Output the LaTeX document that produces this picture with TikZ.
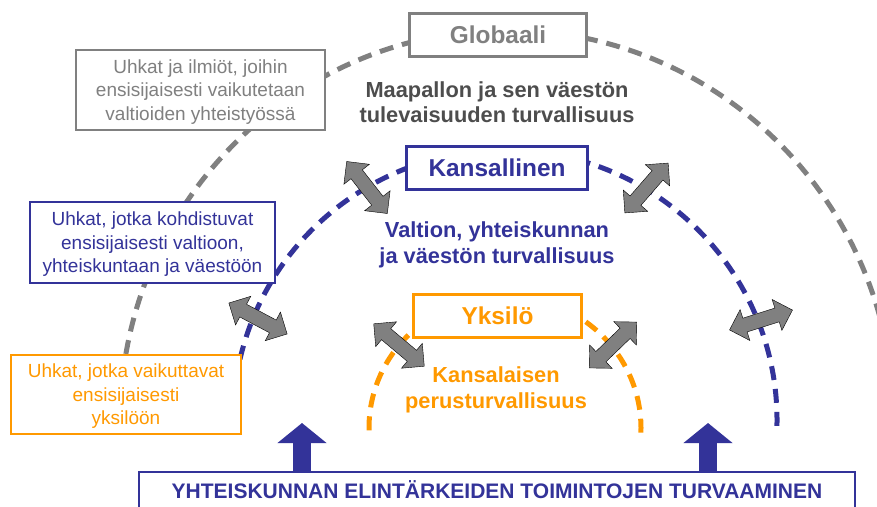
\documentclass[tikz,border=0pt]{standalone}
\usepackage{fontspec}
\setmainfont{Liberation Sans}
\usetikzlibrary{arrows.meta,shapes.arrows}

\definecolor{ggray}{HTML}{808080}
\definecolor{dgray}{HTML}{4D4D4D}
\definecolor{kblue}{HTML}{333399}
\definecolor{yorange}{HTML}{FF9900}

\begin{document}
\begin{tikzpicture}[x=1pt,y=-1pt,
    level/.style={draw=#1,fill=white,line width=3pt,text=#1,font=\fontsize{24.4}{28}\selectfont\bfseries,minimum height=43pt,inner sep=0pt},
    threat/.style={draw=#1,fill=white,line width=2pt,text=#1,align=center,font=\fontsize{19}{23.5}\selectfont,inner sep=0pt,text depth=0pt},
    goal/.style={text=#1,align=center,font=\fontsize{21.8}{25.5}\selectfont\bfseries},
    ring/.style={draw=#1,line width=5pt,dash pattern=on 14pt off 9pt},
    swap/.style={double arrow,draw=black,thin,fill=ggray,minimum height=66pt,inner xsep=0pt,inner ysep=7pt,double arrow head extend=9pt},
    lift/.style={draw=kblue,line width=18pt,-{Triangle[width=48pt,length=20pt]}}]

  \useasboundingbox (0,0) rectangle (877,506);
  \clip (0,0) rectangle (877,506);

  % dashed rings
  \coordinate (cg) at (507,422);
  \coordinate (ck) at (505,420);
  \coordinate (cy) at (505,428);
  \draw[ring=ggray] (cg) ++(170:387pt and 392pt) arc[start angle=170,end angle=8,x radius=387pt,y radius=392pt];
  \draw[ring=kblue] (ck) ++(167:272pt and 270pt) arc[start angle=167,end angle=-3,x radius=272pt,y radius=270pt];
  \draw[ring=yorange] (cy) ++(181:136pt and 132pt) arc[start angle=181,end angle=-2,x radius=136pt,y radius=132pt];

  % levels
  \node[level=ggray,minimum width=177pt] (glob) at (498,35) {Globaali};
  \node[level=kblue,minimum width=181pt] (kans) at (497,168) {Kansallinen};
  \node[level=yorange,minimum width=168pt] (yks) at (497.5,316) {Yksilö};

  \node[goal=dgray] (glab) at (497,102) {Maapallon ja sen väestön\\tulevaisuuden turvallisuus};
  \node[goal=kblue] (klab) at (497,245) {Valtion, yhteiskunnan\\ja väestön turvallisuus};
  \node[goal=yorange] (ylab) at (496,390) {Kansalaisen\\perusturvallisuus};

  % threats
  \node[threat=ggray,minimum width=249pt,minimum height=80pt] (tglob) at (200.5,90) {Uhkat ja ilmiöt, joihin\\ensisijaisesti vaikutetaan\\valtioiden yhteistyössä};
  \node[threat=kblue,minimum width=245pt,minimum height=81pt] (tkans) at (152.5,242.5) {Uhkat, jotka kohdistuvat\\ensisijaisesti valtioon,\\yhteiskuntaan ja väestöön};
  \node[threat=yorange,minimum width=230pt,minimum height=79pt] (tyks) at (126,394.5) {Uhkat, jotka vaikuttavat\\ensisijaisesti\\yksilöön};

  % interaction
  \node[swap,rotate=-52] (s1) at (367,187.5) {};
  \node[swap,rotate=49] (s2) at (646.5,188) {};
  \node[swap,rotate=-28] (s3) at (258,318.5) {};
  \node[swap,rotate=-40] (s4) at (399,345) {};
  \node[swap,rotate=44] (s5) at (613,345) {};
  \node[swap,rotate=17.5] (s6) at (761,320) {};

  % base
  \node[draw=kblue,line width=2pt,fill=white,text=kblue,font=\fontsize{21}{25}\selectfont\bfseries,
        minimum width=716pt,inner sep=0pt,text height=26pt,text depth=14pt,anchor=north] (base) at (497,471)
        {YHTEISKUNNAN ELINTÄRKEIDEN TOIMINTOJEN TURVAAMINEN};
  \coordinate (t1) at (302,423);
  \coordinate (t2) at (708,423);
  \draw[lift] (t1 |- base.north) -- (t1);
  \draw[lift] (t2 |- base.north) -- (t2);
\end{tikzpicture}
\end{document}
